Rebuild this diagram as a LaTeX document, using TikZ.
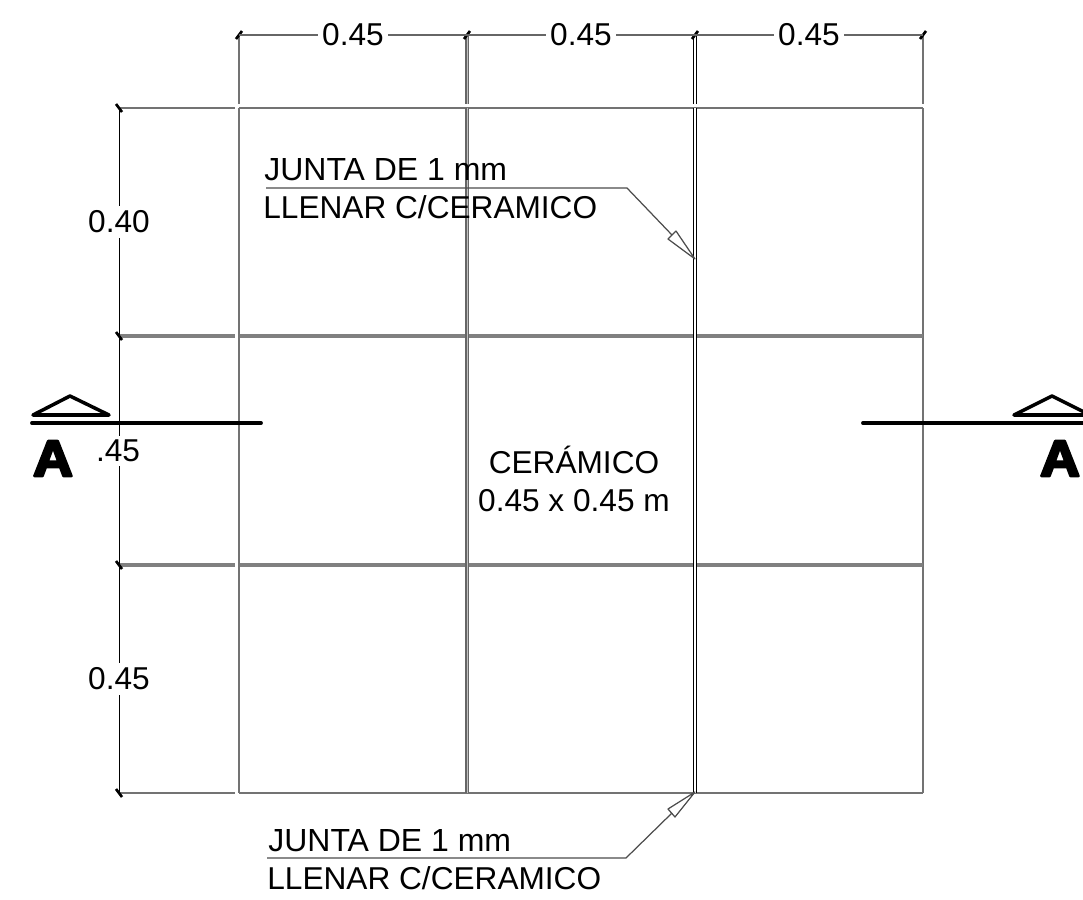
\documentclass[tikz,border=0pt]{standalone}
\usepackage{fontspec}
\setmainfont{Liberation Sans}
\newfontfamily\heavyfont[FakeBold=5]{Liberation Sans Bold}
\usetikzlibrary{positioning}
\tikzset{
	gridline/.style={draw=black!55, line width=.7pt},
	jointh/.style={draw=black!50, line width=1.9pt},
	jointa/.style={draw=black!60, double=black!25, double distance=.5pt, line width=.65pt},
	jointb/.style={draw=black, double=white, double distance=.6pt, line width=.6pt},
	dimline/.style={draw=black!60, line width=.6pt},
	sideline/.style={draw=black, line width=.55pt},
	dimtick/.style={draw=black, line width=1.5pt},
	dimtext/.style={fill=white, inner sep=2.5pt, font=\fontsize{18}{20}\selectfont},
	notetext/.style={anchor=base west, inner sep=0pt, font=\fontsize{18.2}{20}\selectfont},
	longtext/.style={notetext, font=\fontsize{18}{20}\selectfont},
	tiletext/.style={inner sep=0pt, font=\fontsize{18}{20}\selectfont},
	leader/.style={draw=black!70, line width=.7pt},
	cutline/.style={draw=black, line width=2.2pt, line cap=round},
	cutmark/.style={draw=black, line width=2pt, line join=round},
	cutletter/.style={inner sep=0pt, xscale=1.08, font=\heavyfont\fontsize{29}{30}\selectfont}
}
\begin{document}
\begin{tikzpicture}[x=.02cm, y=-.02cm, line join=round]
	\useasboundingbox (0,0) rectangle (1083,900);
	\def\xa{239}\def\xb{467}\def\xc{695}\def\xd{923}
	\def\ya{108}\def\yb{336}\def\yc{565}\def\yd{793}
	\def\xdim{119}\def\ydim{35}
	% grid
	\draw[gridline] (\xdim,\ya)--(235,\ya) (\xa,\ya)--(\xd,\ya);
	\draw[gridline] (\xdim,\yd)--(235,\yd) (\xa,\yd)--(\xd,\yd);
	\draw[gridline] (\xa,\ydim)--(\xa,104) (\xa,\ya)--(\xa,\yd);
	\draw[gridline] (\xd,\ydim)--(\xd,104) (\xd,\ya)--(\xd,\yd);
	\foreach \y in {\yb,\yc}
	\draw[jointh] (\xdim,\y)--(235,\y) (\xa+1,\y)--(\xd,\y);
	\draw[jointa] (\xb,\ydim)--(\xb,104) (\xb,\ya)--(\xb,\yd);
	\draw[jointb] (\xc,\ydim)--(\xc,104) (\xc,\ya)--(\xc,\yd);
	% dimensions on top
	\foreach \n/\x in {a/\xa,b/\xb,c/\xc,d/\xd}{
		\coordinate (top\n) at (\x,\ydim);
		\draw[dimtick] (\x-3,\ydim+4)--(\x+3,\ydim-4);
	}
	\foreach \p/\q in {a/b,b/c,c/d}
	\draw[dimline] (top\p)--(top\q) node[midway, dimtext] (lab\p) {0.45};
	% dimensions on the left
	\foreach \n/\y in {a/\ya,b/\yb,c/\yc,d/\yd}{
		\coordinate (side\n) at (\xdim,\y);
		\draw[dimtick] (\xdim-3,\y-4)--(\xdim+3,\y+4);
	}
	\draw[sideline] (sidea)--(sideb) node[midway, dimtext] (labw) {0.40};
	\draw[sideline] (sideb)--(sidec);
	\draw[sideline] (sidec)--(sided) node[midway, dimtext] (labx) {0.45};
	\node[dimtext] (laby) at (118,451) {.45};
	% notes
	\coordinate (upa) at (266,188);
	\coordinate (upb) at (627,188);
	\coordinate (uptip) at (695,259);
	\coordinate (upbase) at (672,235);
	\node[notetext] (upone) at (264,180) {JUNTA DE 1 mm};
	\node[longtext] (uptwo) at (263,218) {LLENAR C/CERAMICO};
	\draw[leader] (upa)--(upb)--(upbase);
	\draw[leader] (uptip)--(676,231)--(668,239)--cycle;
	\coordinate (loa) at (267,858);
	\coordinate (lob) at (626,858);
	\coordinate (lotip) at (695,792);
	\coordinate (lobase) at (672,813);
	\node[notetext] (loone) at (268,851) {JUNTA DE 1 mm};
	\node[longtext] (lotwo) at (267,889) {LLENAR C/CERAMICO};
	\draw[leader] (loa)--(lob)--(lobase);
	\draw[leader] (lotip)--(668,809)--(675,817)--cycle;
	% tile label
	\node[tiletext] (tile) at (574,460) {CER\'AMICO};
	\node[tiletext] (size) at (574,501) {0.45 x 0.45 m};
	% section marks
	\coordinate (cutla) at (32,423);
	\coordinate (cutlb) at (261,423);
	\coordinate (cutra) at (863,423);
	\coordinate (cutrb) at (1083,423);
	\draw[cutline] (cutla)--(cutlb);
	\draw[cutline] (cutra)--(cutrb);
	\draw[cutmark] (33,415)--(109,415)--(70,396)--cycle;
	\draw[cutmark] (1014,415)--(1090,415)--(1052,396)--cycle;
	\node[cutletter] (letl) at (53,458.5) {A};
	\node[cutletter] (letr) at (1060,458.5) {A};
\end{tikzpicture}
\end{document}
